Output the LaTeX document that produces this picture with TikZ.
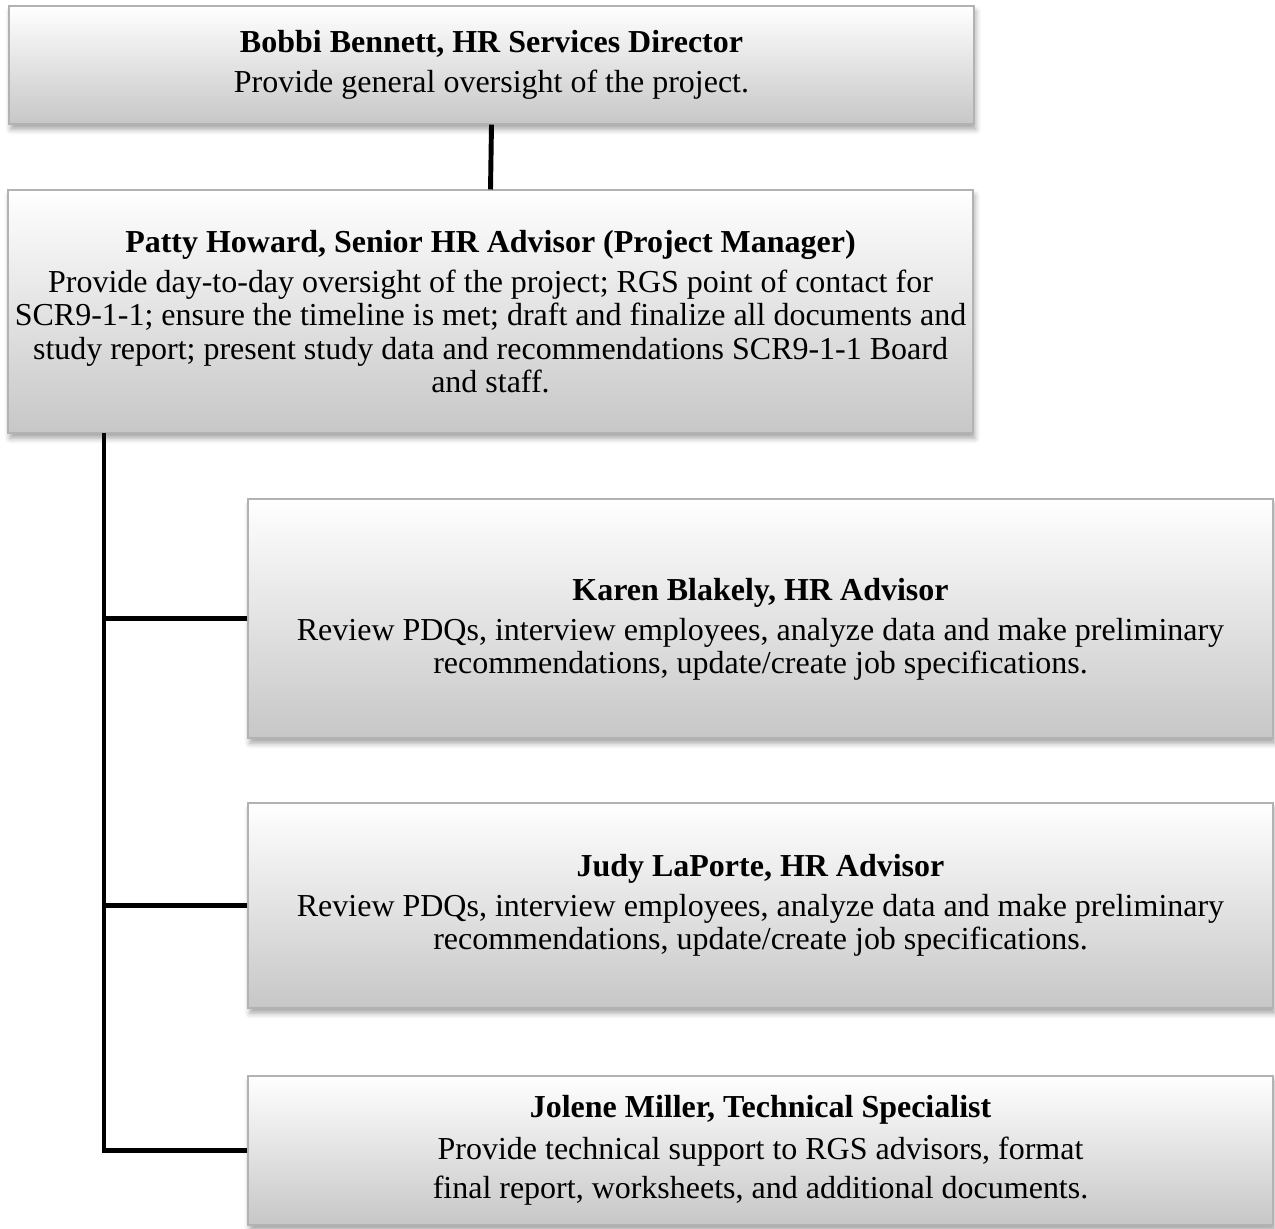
\documentclass[tikz,border=0pt]{standalone}
\usepackage{fontspec}
\setmainfont{Liberation Serif}
\usetikzlibrary{positioning,calc,shadows.blur}
\usepackage{xcolor}

\begin{document}
\begin{tikzpicture}[
  card/.style={draw=black!30, line width=0.6pt, top color=white, middle color=white!97!black, bottom color=black!22,
    minimum height=#1, align=center, inner sep=0pt,
    font=\fontsize{18.2}{18.9}\selectfont,
    blur shadow={shadow xshift=1pt, shadow yshift=-3pt, shadow blur radius=3pt, shadow opacity=35},
    path picture={
      \draw[black!38, line width=1.6pt] (path picture bounding box.south west) -- (path picture bounding box.south east);
      \draw[black!28, line width=1.2pt] (path picture bounding box.north west) -- (path picture bounding box.south west);
      \draw[black!28, line width=1.2pt] (path picture bounding box.north east) -- (path picture bounding box.south east);
    }},
  wide/.style={card=#1, minimum width=19.3cm},
  side/.style={card=#1, minimum width=20.5cm},
  link/.style={line width=2.8pt, black}
]
  \useasboundingbox (0,0) rectangle (25.5,-24.56);

  \node[wide=2.36cm] (bennett) at (9.83,-1.30) {\textbf{Bobbi Bennett, HR Services Director}\\[4pt]
    Provide general oversight of the project.};
  \node[wide=4.86cm] (howard) at (9.81,-6.23) {\textbf{Patty Howard, Senior HR Advisor (Project Manager)}\\[4pt]
    Provide day-to-day oversight of the project; RGS point of contact for\\
    SCR9-1-1; ensure the timeline is met; draft and finalize all documents and\\
    study report; present study data and recommendations SCR9-1-1 Board\\
    and staff.};

  \node[side=4.78cm] (blakely) at (15.21,-12.37) {\rule{0pt}{0.88cm}\textbf{Karen Blakely, HR Advisor}\\[4pt]
    Review PDQs, interview employees, analyze data and make preliminary\\
    recommendations, update/create job specifications.};
  \node[side=4.1cm] (laporte) at (15.21,-18.11) {\textbf{Judy LaPorte, HR Advisor}\\[4pt]
    Review PDQs, interview employees, analyze data and make preliminary\\
    recommendations, update/create job specifications.};
  \node[side=2.98cm] (miller) at (15.21,-23.01) {\textbf{Jolene Miller, Technical Specialist}\\[5pt]
    Provide technical support to RGS advisors, format\\[3pt]
    final report, worksheets, and additional documents.};

  \coordinate (trunk) at (2.08,-8.66);

  \draw[link] (bennett.south) -- (howard.north);
  \draw[link] (trunk) |- (miller.west);
  \draw[link] (blakely.west) -- (blakely.west -| trunk);
  \draw[link] (laporte.west) -- (laporte.west -| trunk);
\end{tikzpicture}
\end{document}
